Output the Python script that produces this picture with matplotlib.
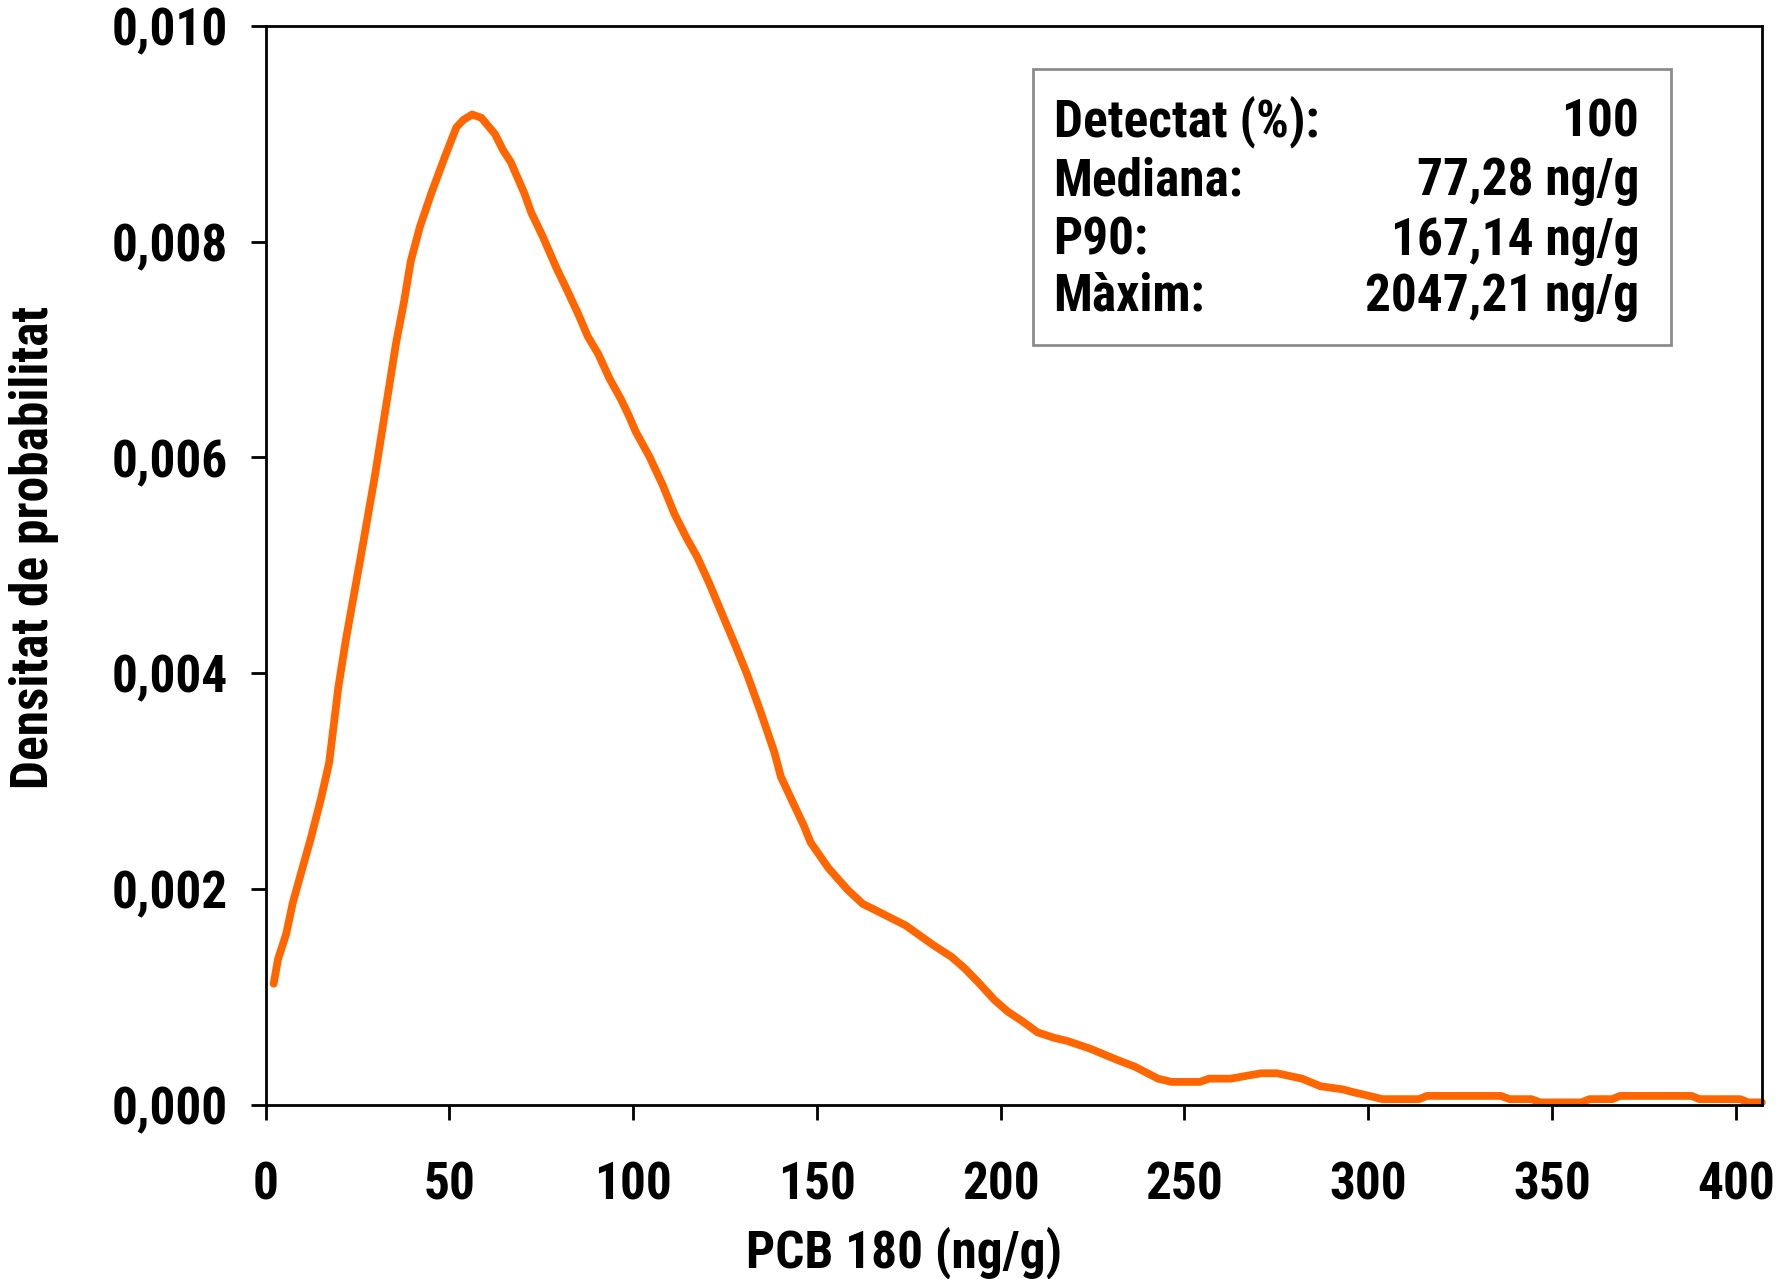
import matplotlib
matplotlib.use('Agg')
import matplotlib.pyplot as plt
from matplotlib.patches import Rectangle
from matplotlib.ticker import FuncFormatter

# density curve of PCB 180 concentration
conc = [2.2, 3.4, 5.6, 7.4, 9.6, 12.4, 15.1, 17.3, 19.8, 21.9, 25.9, 29.7, 33.4, 35.5,
        37.7, 39.5, 42.0, 45.1, 48.8, 51.9, 53.8, 56.2, 58.7, 62.4, 64.6, 66.7, 70.4,
        72.3, 75.4, 79.1, 82.2, 85.2, 87.7, 90.5, 93.6, 96.7, 98.8, 100.7, 104.4, 108.1,
        111.2, 114.6, 117.4, 120.5, 124.2, 127.9, 131.0, 134.7, 138.4, 140.2, 143.9,
        146.4, 148.3, 153.2, 158.4, 162.5, 165.5, 174.2, 181.6, 186.6, 190.3, 194.0,
        198.3, 202.0, 206.0, 210.0, 214.4, 218.1, 224.2, 232.0, 236.6, 242.8, 246.5,
        254.2, 256.7, 262.6, 267.5, 270.9, 275.2, 282.0, 287.0, 293.2, 295.3, 301.5,
        303.9, 313.8, 316.0, 336.1, 338.5, 344.4, 346.8, 358.0, 360.2, 366.4, 368.5,
        388.0, 390.1, 401.2, 403.4, 407.1]
dens = [1.12, 1.35, 1.58, 1.87, 2.14, 2.48, 2.84, 3.17, 3.87, 4.32, 5.08, 5.82, 6.61, 7.06,
        7.45, 7.82, 8.14, 8.45, 8.79, 9.06, 9.13, 9.18, 9.15, 9.00, 8.85, 8.74, 8.45,
        8.27, 8.05, 7.76, 7.54, 7.32, 7.12, 6.96, 6.73, 6.54, 6.39, 6.24, 6.01, 5.74,
        5.48, 5.25, 5.08, 4.85, 4.55, 4.25, 3.99, 3.64, 3.27, 3.04, 2.77,
        2.59, 2.43, 2.19, 1.99, 1.86, 1.81, 1.66, 1.48, 1.37, 1.26, 1.13,
        0.97, 0.86, 0.77, 0.67, 0.62, 0.59, 0.52, 0.41, 0.35, 0.24, 0.21,
        0.21, 0.24, 0.24, 0.27, 0.29, 0.29, 0.24, 0.17, 0.14, 0.12, 0.07,
        0.05, 0.05, 0.08, 0.08, 0.05, 0.05, 0.02, 0.02, 0.05, 0.05, 0.08,
        0.08, 0.05, 0.05, 0.02, 0.02]
dens = [d / 1000 for d in dens]

stat_names = ["Detectat (%):", "Mediana:", "P90:", "Màxim:"]
stat_values = ["100", "77,28 ng/g", "167,14 ng/g", "2047,21 ng/g"]

xticks = [0, 50, 100, 150, 200, 250, 300, 350, 400]
yticks = [0, 0.002, 0.004, 0.006, 0.008, 0.010]

FS = 37
plt.rcParams['font.family'] = ['Roboto Condensed', 'Liberation Sans', 'DejaVu Sans']
plt.rcParams['font.weight'] = 'bold'

fig = plt.figure(figsize=(17.8, 12.79), dpi=100)
ax = fig.add_axes([0.1492, 0.1364, 0.8406, 0.8432])

ax.plot(conc, dens, color='#ff6600', lw=5.6, solid_capstyle='round', solid_joinstyle='round',
        clip_on=False)

ax.set_xlim(0, 407.1)
ax.set_ylim(0, 0.010)
ax.set_xticks(xticks)
ax.set_yticks(yticks)
ax.yaxis.set_major_formatter(FuncFormatter(lambda v, p: f"{v:.3f}".replace('.', ',')))

for s in ax.spines.values():
    s.set_linewidth(2)
ax.tick_params(direction='out', length=11, width=2, labelsize=FS)
ax.tick_params(axis='x', pad=29)
ax.tick_params(axis='y', pad=16)
for label in (ax.get_xticklabels() + ax.get_yticklabels()):
    label.set_fontweight('bold')

ax.set_xlabel('PCB 180 (ng/g)', fontsize=FS, fontweight='bold', va='center')
ax.set_ylabel('Densitat de probabilitat', fontsize=FS, fontweight='bold', va='center')
ax.xaxis.set_label_coords(0.4264, -0.137)
ax.yaxis.set_label_coords(-0.155, 0.517)

# summary box
ax.add_patch(Rectangle((0.513, 0.704), 0.426, 0.256, transform=ax.transAxes,
                       facecolor='white', edgecolor='#8c8c8c', lw=2, zorder=3))
rows_y = [0.911, 0.856, 0.801, 0.749]
for name, val, yy in zip(stat_names, stat_values, rows_y):
    ax.text(0.5266, yy, name, transform=ax.transAxes, fontsize=FS, fontweight='bold',
            ha='left', va='center', zorder=4)
    ax.text(0.918, yy, val, transform=ax.transAxes, fontsize=FS, fontweight='bold',
            ha='right', va='center', zorder=4)

fig.savefig('out.png', dpi=100)
